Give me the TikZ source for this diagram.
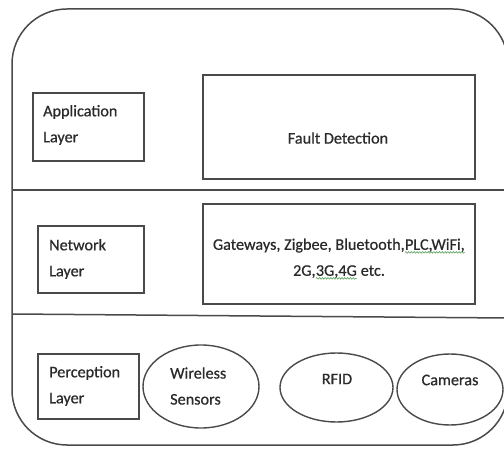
\documentclass[tikz,border=0pt]{standalone}
\usepackage{fontspec}
\setmainfont{Carlito}[RawFeature={embolden=0.6}]
\usetikzlibrary{shapes.geometric,decorations.pathmorphing}
\definecolor{linegray}{HTML}{4A4A4A}
\definecolor{textgray}{HTML}{2A2A2A}
\definecolor{spellgreen}{HTML}{5AA05A}
\newcommand\spellmark[1]{\tikz[baseline=(w.base),x=1pt,y=1pt]{\node[inner sep=0pt,outer sep=0pt](w){#1};\draw[spellgreen,line width=0.6pt,decorate,decoration={snake,amplitude=0.8pt,segment length=2.8pt}]([yshift=-2.6pt]w.base west)--([yshift=-2.6pt]w.base east);}}
\begin{document}
\begin{tikzpicture}[x=1pt,y=-1pt,
  lay/.style={draw=linegray,line width=1.4pt,inner sep=0pt},
  lbl/.style={inner sep=0pt,text=textgray,font=\fontsize{16.2}{26}\selectfont},
  ell/.style={draw=linegray,line width=1.4pt,ellipse,inner sep=0pt}]
\useasboundingbox (0,0) rectangle (504,449);
\fill[white] (0,0) rectangle (504,449);
\clip (0,0) rectangle (504,449);
% outer frame
\draw[linegray,line width=1.5pt,rounded corners=55pt] (12,9) rectangle (508,445);
\coordinate (d1l) at (12,190); \coordinate (d1r) at (508,190);
\coordinate (d2l) at (12,314); \coordinate (d2r) at (508,318);
\draw[linegray,line width=1.5pt] (d1l) -- (d1r);
\draw[linegray,line width=1.5pt] (d2l) -- (d2r);
% application layer
\node[lay,minimum width=111pt,minimum height=68pt] (appbox) at (88.5,127) {};
\node[lbl,anchor=west,align=left] (applbl) at (43,125) {Application\\Layer};
\node[lay,minimum width=272pt,minimum height=104pt] (faultbox) at (339,127) {};
\node[lbl] (fault) at (338,138) {Fault Detection};
% network layer
\node[lay,minimum width=106pt,minimum height=67pt] (netbox) at (91,259.5) {};
\node[lbl,anchor=west,align=left] (netlbl) at (49,259) {Network\\Layer};
\node[lay,minimum width=272pt,minimum height=100pt] (gwbox) at (339,254) {};
\node[lbl,align=center] (gw) at (339,259) {Gateways, Zigbee, Bluetooth,\spellmark{PLC,WiFi,}\\2G,\spellmark{3G,4G} etc.};
% perception layer
\node[lay,minimum width=101pt,minimum height=65pt] (percbox) at (88.5,386.5) {};
\node[lbl,anchor=west,align=left] (perclbl) at (49,386) {Perception\\Layer};
\node[ell,minimum width=116pt,minimum height=83pt] (wsens) at (201,386.5) {};
\node[lbl,anchor=west,align=left] (wslbl) at (170,386) {Wireless\\Sensors};
\node[ell,minimum width=113pt,minimum height=69pt] (rfid) at (336.5,387.5) {};
\node[lbl] (rfidlbl) at (337,379) {RFID};
\node[ell,minimum width=106pt,minimum height=71pt] (cam) at (450,389.5) {};
\node[lbl] (camlbl) at (450,380) {Cameras};
\end{tikzpicture}
\end{document}
